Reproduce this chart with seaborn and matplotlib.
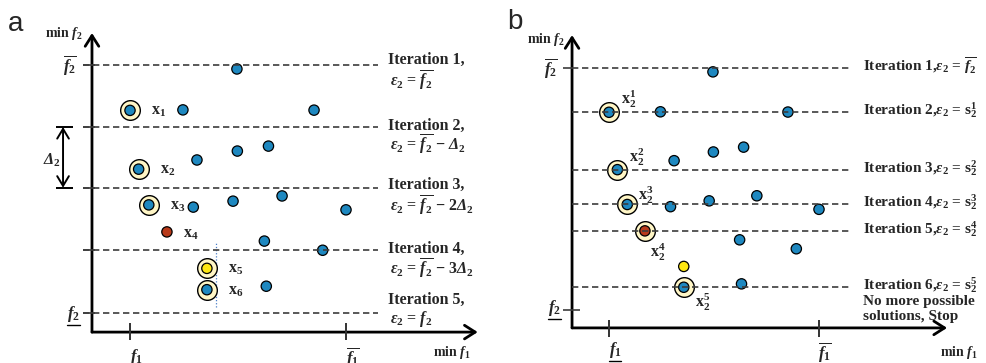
import matplotlib
matplotlib.use("Agg")
import matplotlib.pyplot as plt
from matplotlib.lines import Line2D
import pandas as pd
import seaborn as sns

# candidate solutions (same set in both panels), f1/f2 scaled so min = 0, max = 10
f1 = [4.95, 0.00, 2.45, 8.52, 0.40, 3.10, 4.97, 6.41, 0.87, 2.93,
      4.77, 7.04, 10.00, 1.71, 6.22, 8.92, 3.56, 3.56, 6.31]
f2 = [9.84, 8.17, 8.19, 8.18, 5.80, 6.17, 6.53, 6.73, 4.36, 4.27,
      4.51, 4.72, 4.16, 3.27, 2.90, 2.53, 1.80, 0.94, 1.08]
kind = ['normal', 'normal', 'normal', 'normal', 'normal', 'normal', 'normal',
        'normal', 'normal', 'normal', 'normal', 'normal', 'normal', 'red',
        'normal', 'normal', 'yellow', 'normal', 'normal']

# panel a: fixed step epsilon levels
levels_a = [10.0, 7.5, 5.05, 2.53, 0.0]
ring_a = [1, 4, 8, 16, 17]
label_idx_a = [1, 4, 8, 13, 16, 17]
labels_a = [r'$\mathrm{x}_1$', r'$\mathrm{x}_2$', r'$\mathrm{x}_3$',
            r'$\mathrm{x}_4$', r'$\mathrm{x}_5$', r'$\mathrm{x}_6$']
iter_a = ['Iteration 1,', 'Iteration 2,', 'Iteration 3,', 'Iteration 4,', 'Iteration 5,']
eps_a = [r'$\varepsilon_2$ = $\overline{f_2}$',
         r'$\varepsilon_2$ = $\overline{f_2}$ − $\mathbfit{\Delta}_2$',
         r'$\varepsilon_2$ = $\overline{f_2}$ − 2$\mathbfit{\Delta}_2$',
         r'$\varepsilon_2$ = $\overline{f_2}$ − 3$\mathbfit{\Delta}_2$',
         r'$\varepsilon_2$ = $f_2$']

# panel b: adaptive levels (f2 of the last found solution)
levels_b = [10.0, 8.17, 5.80, 4.36, 3.27, 0.94]
ring_b = [1, 4, 8, 13, 17]
labels_b = [r'$\mathrm{x}_2^1$', r'$\mathrm{x}_2^2$', r'$\mathrm{x}_2^3$',
            r'$\mathrm{x}_2^4$', r'$\mathrm{x}_2^5$']
iter_b = [r'Iteration 1,$\varepsilon_2$ = $\overline{f_2}$',
          r'Iteration 2,$\varepsilon_2$ = $\mathrm{s}_2^1$',
          r'Iteration 3,$\varepsilon_2$ = $\mathrm{s}_2^2$',
          r'Iteration 4,$\varepsilon_2$ = $\mathrm{s}_2^3$',
          r'Iteration 5,$\varepsilon_2$ = $\mathrm{s}_2^4$',
          r'Iteration 6,$\varepsilon_2$ = $\mathrm{s}_2^5$']

pts = pd.DataFrame({'f1': f1, 'f2': f2, 'kind': kind})
palette = {'normal': '#1E88C0', 'red': '#B83A1A', 'yellow': '#FFE812'}

sns.set_style('white')
plt.rcParams['font.family'] = ['Liberation Serif', 'DejaVu Serif']
plt.rcParams['font.weight'] = 'bold'
plt.rcParams['mathtext.fontset'] = 'custom'
plt.rcParams['mathtext.rm'] = 'Liberation Serif:bold'
plt.rcParams['mathtext.it'] = 'Liberation Serif:italic:bold'
plt.rcParams['mathtext.bf'] = 'Liberation Serif:bold'
plt.rcParams['mathtext.bfit'] = 'Liberation Serif:italic:bold'

W, H = 987, 363
fig = plt.figure(figsize=(W / 100, H / 100), dpi=100)


def panel_axes(left_px, width_px, x0_px, xscale, y0_px, yscale):
    ax = fig.add_axes([left_px / W, 0, width_px / W, 1])
    ax.set_xlim((left_px - x0_px) / xscale, (left_px + width_px - x0_px) / xscale)
    ax.set_ylim((y0_px - H) / yscale, y0_px / yscale)
    ax.axis('off')
    return ax


axA = panel_axes(0, 493, 130, 21.6, 313, 24.8)
axB = panel_axes(493, 494, 609, 21.0, 310, 24.2)

arrow = dict(arrowstyle='->,head_length=0.55,head_width=0.35', lw=2.0,
             color='black', shrinkA=0, shrinkB=0, mutation_scale=14)
dash = (0, (3.8, 2.2))
underline_texts = []


def draw_points(ax, ring):
    sns.scatterplot(data=pts.iloc[ring], x='f1', y='f2', s=200, color='#FFF6C6',
                    edgecolor='black', linewidth=1.0, ax=ax, zorder=2, legend=False)
    sns.scatterplot(data=pts, x='f1', y='f2', hue='kind', palette=palette, s=55,
                    edgecolor='black', linewidth=0.9, ax=ax, zorder=3, legend=False)


def axes_frame(ax, corner, ytip, xtip, tick_y0, tick_y1):
    ax.annotate('', xy=(corner[0], ytip), xytext=corner, arrowprops=arrow,
                annotation_clip=False)
    ax.annotate('', xy=(xtip, corner[1]), xytext=corner, arrowprops=arrow,
                annotation_clip=False)
    ax.vlines([0, 10], tick_y0, tick_y1, colors='#333333', lw=1.4, zorder=5)


# ---------------- panel a ----------------
ax = axA
draw_points(ax, ring_a)
ax.hlines(levels_a, -2.18, 11.48, colors='#3c3c3c', linestyles=dash, lw=1.2, zorder=4)
ax.hlines(levels_a, -2.18, -1.6, colors='#3c3c3c', lw=1.2, zorder=4)
axes_frame(ax, (-1.76, -0.77), 11.29, 16.1, -0.40, -1.09)
ax.vlines(3.98, 0.24, 2.86, colors='#4a7fc8', linestyles=(0, (1, 1.5)), lw=0.9, zorder=1)

# Delta_2 arrow
ax.annotate('', xy=(-3.10, levels_a[2]), xytext=(-3.10, levels_a[1]),
            arrowprops=dict(arrowstyle='<->,head_length=0.5,head_width=0.3', lw=1.4,
                            color='black', shrinkA=0, shrinkB=0, mutation_scale=14))
ax.hlines([levels_a[1], levels_a[2]], -3.42, -2.64, colors='black', lw=1.4)
ax.text(-3.22, 6.17, r'$\mathbfit{\Delta}_2$', ha='right', va='center', fontsize=11.5)

for i, lab in zip(label_idx_a, labels_a):
    off = (16, -2) if i == 13 else (21, -1)
    ax.annotate(lab, (f1[i], f2[i]), xytext=off, textcoords='offset pixels',
                ha='left', va='center', fontsize=11.5)

title_off = [-5, -1, -3, -1, -13]
eps_off = [16, 18, 18, 19, 6]
for lev, t, e, to, eo in zip(levels_a, iter_a, eps_a, title_off, eps_off):
    ax.annotate(t, (11.94, lev), xytext=(0, -to), textcoords='offset pixels',
                ha='left', va='center', fontsize=11.5, annotation_clip=False)
    ax.annotate(e, (11.94, lev), xytext=(2, -eo), textcoords='offset pixels',
                ha='left', va='center', fontsize=11.5, annotation_clip=False)

ax.text(-2.18, 11.29, r'min $f_2$', ha='right', va='center', fontsize=10)
ax.text(-2.45, 10.0, r'$\overline{f_2}$', ha='right', va='center', fontsize=12)
underline_texts.append(ax.text(-2.31, -0.05, r'$f_2$', ha='right', va='center', fontsize=12))
underline_texts.append(ax.text(0.3, -1.78, r'$f_1$', ha='center', va='center', fontsize=12))
ax.text(10.3, -1.78, r'$\overline{f_1}$', ha='center', va='center', fontsize=12)
ax.text(14.9, -1.61, r'min $f_1$', ha='center', va='center', fontsize=10)

# ---------------- panel b ----------------
ax = axB
draw_points(ax, ring_b)
ax.hlines(levels_b, -1.76, 11.57, colors='#3c3c3c', linestyles=dash, lw=1.2, zorder=4)
ax.hlines(10.0, -2.19, -1.76, colors='#3c3c3c', lw=1.2, zorder=4)
ax.hlines(0.0, -2.19, -1.38, colors='#3c3c3c', lw=1.2, zorder=4)
axes_frame(ax, (-1.76, -0.74), 11.36, 16.1, -0.41, -1.12)

label_off_b = [(12, 13), (12, 12), (11, 9), (5, -21), (11, -15)]
for i, lab, off in zip(ring_b, labels_b, label_off_b):
    ax.annotate(lab, (f1[i], f2[i]), xytext=off, textcoords='offset pixels',
                ha='left', va='center', fontsize=11.5)

for lev, t in zip(levels_b, iter_b):
    ax.annotate(t, (12.1, lev), xytext=(0, 2), textcoords='offset pixels',
                ha='left', va='center', fontsize=11, annotation_clip=False)
ax.annotate('No more possible', (12.1, levels_b[-1]), xytext=(0, -14),
            textcoords='offset pixels', ha='left', va='center', fontsize=11)
ax.annotate('solutions, Stop', (12.1, levels_b[-1]), xytext=(0, -29),
            textcoords='offset pixels', ha='left', va='center', fontsize=11)

ax.text(-2.10, 11.16, r'min $f_2$', ha='right', va='center', fontsize=10)
ax.text(-2.43, 10.0, r'$\overline{f_2}$', ha='right', va='center', fontsize=12)
underline_texts.append(ax.text(-2.29, 0.1, r'$f_2$', ha='right', va='center', fontsize=12))
underline_texts.append(ax.text(0.29, -1.66, r'$f_1$', ha='center', va='center', fontsize=12))
ax.text(10.3, -1.74, r'$\overline{f_1}$', ha='center', va='center', fontsize=12)
ax.text(16.67, -1.74, r'min $f_1$', ha='center', va='center', fontsize=10)

# panel letters
fig.text(16 / W, 1 - 24 / H, 'a', family='Liberation Sans', weight='normal',
         fontsize=20, ha='center', va='center')
fig.text(515 / W, 1 - 22 / H, 'b', family='Liberation Sans', weight='normal',
         fontsize=20, ha='center', va='center')

# underlines (mathtext has no \underline)
fig.canvas.draw()
inv = fig.transFigure.inverted()
for t in underline_texts:
    bb = t.get_window_extent()
    (x0, y0), (x1, _) = inv.transform([(bb.x0, bb.y0 - 1), (bb.x1, bb.y0 - 1)])
    fig.add_artist(Line2D([x0, x1], [y0, y0], color='black', lw=1.0))

fig.savefig('out.png', dpi=100)
